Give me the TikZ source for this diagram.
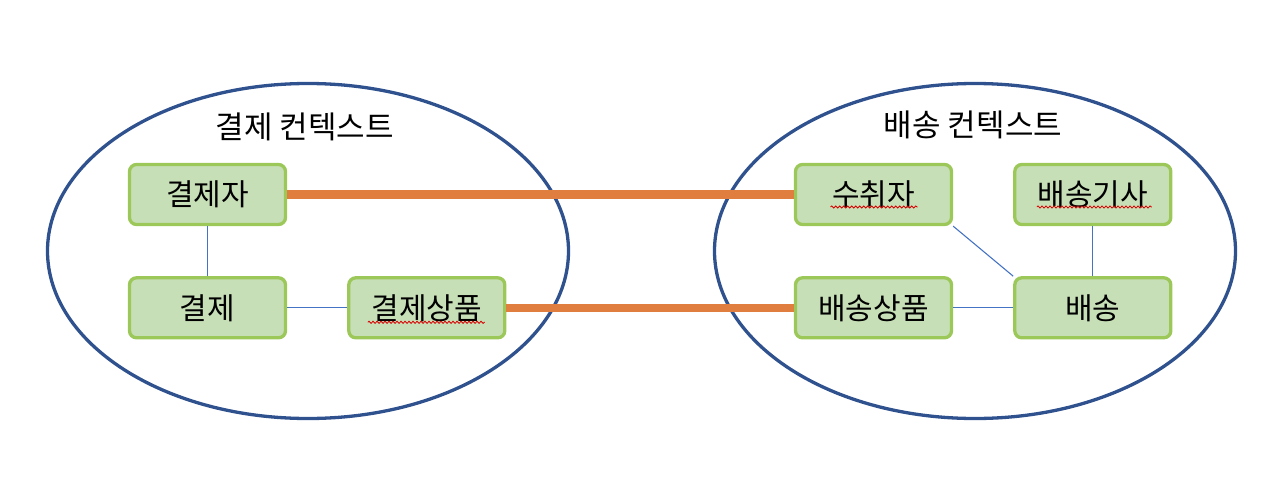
\documentclass[tikz,border=0pt]{standalone}
\usepackage{fontspec}
\newfontfamily\kr{Noto Sans CJK KR}
\usetikzlibrary{positioning,shapes.geometric,decorations.pathmorphing}
\definecolor{ctxblue}{RGB}{47,82,143}
\definecolor{boxgreen}{RGB}{155,200,88}
\definecolor{boxfill}{RGB}{199,223,183}
\definecolor{linkorange}{RGB}{223,126,62}
\definecolor{relblue}{RGB}{68,114,196}
\tikzset{
    %Define style for contexts
    context/.style={
           ellipse,
           draw=ctxblue, line width=3.3pt,
           inner sep=0pt,
           minimum width=521pt,
           minimum height=335pt},
    %Define style for boxes
    entity/.style={
           rectangle,
           rounded corners=7pt,
           draw=boxgreen, line width=3.3pt,
           minimum width=156pt,
           minimum height=60pt,
           font=\kr\fontsize{30}{36}\selectfont,
           text centered,
           fill=boxfill},
    title/.style={font=\kr\fontsize{31}{36}\selectfont},
    % Define line styles
    link/.style={linkorange, line width=8.5pt},
    rel/.style={relblue, line width=1.1pt},
    squig/.style={red!85!black, line width=0.8pt,
           decorate, decoration={snake, amplitude=1.1pt, segment length=4pt}}
}
\begin{document}
\begin{tikzpicture}[x=1pt,y=-1pt,node distance=50pt and 60pt]
\useasboundingbox (0,0) rectangle (1280,498);
\node[context](pctx) at (308,251){};
\node[context](dctx) at (975,251){};
\node[title] at (305,127){결제 컨텍스트};
\node[title] at (973,125){배송 컨텍스트};

\node[entity](payer) at (207.5,194.5){결제자};
\node[entity,below=of payer](pay){결제};
\node[entity,right=of pay](pitem){결제상품};

\node[entity](recv) at (873.5,194.5){수취자};
\node[entity,right=of recv](driver){배송기사};
\node[entity,below=of recv](ditem){배송상품};
\node[entity,below=of driver](deliv){배송};

\draw[rel] (payer) -- (pay);
\draw[rel] (pay) -- (pitem);
\draw[rel] (recv.south east) -- (deliv.north west);
\draw[rel] (driver) -- (deliv);
\draw[rel] (ditem) -- (deliv);

\draw[link] (payer.east) -- (recv.west);
\draw[link] (pitem.east) -- (ditem.west);

% spelling marks
\draw[squig] ([xshift=-59pt,yshift=-14.5pt]pitem.center) -- ([xshift=58pt,yshift=-14.5pt]pitem.center);
\draw[squig] ([xshift=-43pt,yshift=-12.5pt]recv.center) -- ([xshift=44pt,yshift=-12.5pt]recv.center);
\draw[squig] ([xshift=-56pt,yshift=-12.5pt]driver.center) -- ([xshift=59pt,yshift=-12.5pt]driver.center);
\end{tikzpicture}
\end{document}
